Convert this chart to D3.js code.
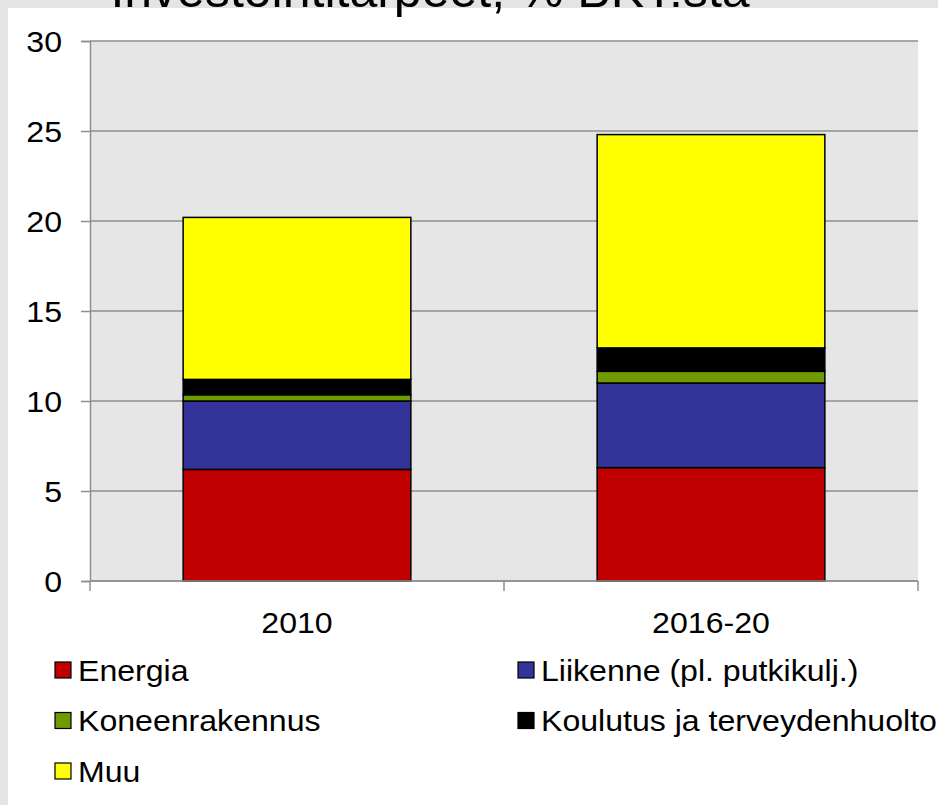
<!DOCTYPE html>
<html>
<head>
<meta charset="utf-8">
<script src="https://cdn.jsdelivr.net/npm/d3@7"></script>
<style>
body{
  margin: 0px;
  background: #e4e4e4;
  font-family: "Liberation Sans", Arial, sans-serif;
}
svg{ display: block; }
.axis text{ font-size: 30px; fill: #000; }
.legend text{ font-size: 30px; fill: #000; }
</style>
</head>
<body>
<div id="chart"></div>
<script>

// DATA ----------------------------------------------------------
var categories = ["2010", "2016-20"]
var seriesNames = ["Energia", "Liikenne (pl. putkikulj.)", "Koneenrakennus", "Koulutus ja terveydenhuolto", "Muu"]
var energia = [6.2, 6.3]
var liikenne = [3.8, 4.7]
var koneenrakennus = [0.35, 0.65]
var koulutus = [0.85, 1.3]
var muu = [9.0, 11.85]
var yTicks = [0, 5, 10, 15, 20, 25, 30]
var colors = ["#c00000", "#333399", "#6f9a00", "#000000", "#ffff00"]
var titleText = "Investointitarpeet, % BKT:stä"
// END -----------------------------------------------------------

var W = 938, H = 805
var SX = 1.07   // the source picture is a little wider than tall in its text
var margin = {top: 41, right: 20, bottom: 224, left: 90},
  width = W - margin.left - margin.right,
  height = H - margin.top - margin.bottom

// widen text horizontally, keeping its anchor point in place
function stretch(sel, sx){
  sel.each(function(){
    var t = d3.select(this)
    var x0 = +t.attr("x") || 0
    t.attr("x", x0 / sx).attr("transform", "scale(" + sx + ",1)")
  })
}

var rows = categories.map(function(c, i){
  return {cat: c, s0: energia[i], s1: liikenne[i], s2: koneenrakennus[i], s3: koulutus[i], s4: muu[i]}
})
var keys = ["s0", "s1", "s2", "s3", "s4"]
var stacked = d3.stack().keys(keys)(rows)

var svg = d3.select("#chart").append("svg")
  .attr("width", W)
  .attr("height", H)

// white panel with gray outer frame
svg.append("rect")
  .attr("x", 8).attr("y", 8)
  .attr("width", W - 8).attr("height", H - 8)
  .attr("fill", "#ffffff")

// title, mostly cut off at the top
svg.append("text")
  .attr("x", 430).attr("y", 7)
  .attr("text-anchor", "middle")
  .style("font-size", "50px")
  .attr("fill", "#000")
  .text(titleText)

var g = svg.append("g")
  .attr("transform", "translate(" + margin.left + "," + margin.top + ")")

var x = d3.scaleBand()
  .domain(categories)
  .range([0, width])
  .paddingInner(0.45)
  .paddingOuter(0.225)

var y = d3.scaleLinear()
  .domain([0, 30])
  .range([height, 0])

// plot background
g.append("rect")
  .attr("width", width).attr("height", height)
  .attr("fill", "#e6e6e6")

// gridlines
g.selectAll(".grid").data(yTicks).enter().append("line")
  .attr("x1", 0).attr("x2", width)
  .attr("y1", function(d){ return y(d) }).attr("y2", function(d){ return y(d) })
  .attr("stroke", "#8f8f8f")
  .attr("stroke-width", 1.5)

// bars
g.selectAll(".layer").data(stacked).enter().append("g")
  .attr("fill", function(d, i){ return colors[i] })
  .selectAll("rect").data(function(d){ return d }).enter().append("rect")
    .attr("x", function(d){ return x(d.data.cat) })
    .attr("width", x.bandwidth())
    .attr("y", function(d){ return y(d[1]) })
    .attr("height", function(d){ return y(d[0]) - y(d[1]) })
    .attr("stroke", "#000")
    .attr("stroke-width", 1.5)

// y axis
var yAxis = g.append("g").attr("class", "axis")
  .call(d3.axisLeft(y).tickValues(yTicks).tickSize(9).tickPadding(19))
yAxis.select(".domain").attr("stroke", "#8f8f8f").attr("stroke-width", 1.5)
yAxis.selectAll("line").attr("stroke", "#8f8f8f").attr("stroke-width", 1.5)
yAxis.selectAll("text").attr("dy", "0.36em").call(stretch, SX)

// x axis with ticks at category boundaries
var xAxis = g.append("g").attr("class", "axis")
  .attr("transform", "translate(0," + height + ")")
xAxis.append("line")
  .attr("x1", 0).attr("x2", width)
  .attr("stroke", "#8f8f8f").attr("stroke-width", 1.5)
var bounds = [0].concat(categories.map(function(c){ return x(c) + x.bandwidth() / 2 + x.step() / 2 }))
xAxis.selectAll(".tk").data(bounds).enter().append("line")
  .attr("x1", function(d){ return d }).attr("x2", function(d){ return d })
  .attr("y1", 0).attr("y2", 10)
  .attr("stroke", "#8f8f8f").attr("stroke-width", 1.5)
xAxis.selectAll(".lbl").data(categories).enter().append("text")
  .attr("x", function(d){ return x(d) + x.bandwidth() / 2 })
  .attr("y", 52)
  .attr("text-anchor", "middle")
  .text(function(d){ return d })
  .call(stretch, SX)

// legend
var legend = svg.append("g").attr("class", "legend")
var legendItems = legend.selectAll("g").data(seriesNames).enter().append("g")
  .attr("transform", function(d, i){
    return "translate(" + (i % 2 ? 518 : 55) + "," + (670 + Math.floor(i / 2) * 50.5) + ")"
  })
legendItems.append("rect")
  .attr("x", 0).attr("y", -8)
  .attr("width", 16).attr("height", 16)
  .attr("fill", function(d, i){ return colors[i] })
  .attr("stroke", "#000").attr("stroke-width", 1.2)
legendItems.append("text")
  .attr("x", 23).attr("dy", "0.36em")
  .text(function(d){ return d })
  .call(stretch, SX)

</script>
</body>
</html>
